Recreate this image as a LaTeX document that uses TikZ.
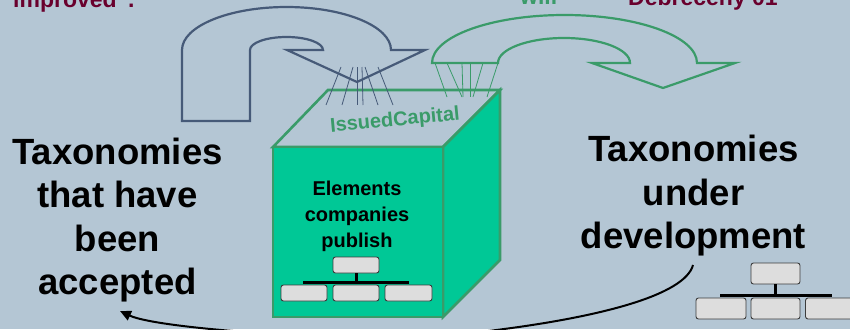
\documentclass[tikz,border=0pt]{standalone}
\usepackage{fontspec}
\setmainfont{Liberation Sans}
\usetikzlibrary{arrows.meta,calc}

\definecolor{bgblue}{RGB}{180,198,212}
\definecolor{slateline}{RGB}{70,90,120}
\definecolor{edgegreen}{RGB}{58,155,105}
\definecolor{cubegreen}{RGB}{0,200,150}
\definecolor{wine}{RGB}{105,0,45}
\definecolor{boxgray}{RGB}{221,221,221}
\definecolor{boxedge}{RGB}{60,60,60}

\tikzset{
  bigtext/.style={font=\bfseries\fontsize{36.5}{43.5}\selectfont, align=center, inner sep=0pt},
  toptext/.style={font=\bfseries\fontsize{23}{27}\selectfont, inner sep=0pt, anchor=base west},
  orgbox/.style={draw=boxedge, fill=boxgray, line width=0.9pt, rounded corners=2.5pt, inner sep=0pt},
  orgbus/.style={draw=black, line width=3pt},
  fanline/.style={line width=0.8pt},
  cubeedge/.style={draw=edgegreen, line width=2.6pt, line join=miter},
}

\begin{document}
\begin{tikzpicture}[x=1pt,y=-1pt]
  % background
  \fill[bgblue] (0,0) rectangle (850,329);
  \useasboundingbox (0,0) rectangle (850,329);

  % headline fragments along the top edge
  \node[toptext, text=wine] (hdA) at (13,8) {improved”.};
  \node[toptext, text=edgegreen] (hdB) at (520,5) {will};
  \node[toptext, text=wine] (hdC) at (628,6) {Debreceny 01};

  % the cube
  \path[cubeedge, fill=bgblue] (273,147) -- (328,90) -- (500,90) -- (443,147) -- cycle;
  \path[cubeedge, fill=cubegreen] (443,147) -- (500,90) -- (500,260) -- (443,317) -- cycle;
  \path[cubeedge, fill=cubegreen] (273,147) rectangle (443,317);

  \node[font=\bfseries\fontsize{20}{24}\selectfont, text=edgegreen, rotate=5.5, inner sep=0pt]
    (topname) at (395,121) {IssuedCapital};
  \node[font=\bfseries\fontsize{20}{26}\selectfont, align=center, inner sep=0pt]
    (cubetext) at (357,216) {Elements\\companies\\publish};

  % small organisation chart on the cube front
  \node[orgbox, minimum width=46pt, minimum height=16pt] (c0) at (356,265) {};
  \node[orgbox, minimum width=46pt, minimum height=16pt] (c1) at (304,293) {};
  \node[orgbox, minimum width=46pt, minimum height=16pt] (c2) at (356,293) {};
  \node[orgbox, minimum width=47pt, minimum height=16pt] (c3) at (408.5,293) {};
  \coordinate (cbusL) at (303,282);
  \coordinate (cbusR) at (409,282);
  \draw[orgbus] (c0.south) -- (c0.south |- cbusL);
  \draw[orgbus] (cbusL) -- (cbusR);

  % U-turn arrow feeding the cube (slate)
  \draw[slateline, line width=2.2pt, line join=miter]
    (182,121) -- (182,50)
    .. controls (182,26.3) and (228.8,7) .. (286.5,7)
    .. controls (344.2,7) and (391,26.3) .. (391,50)
    -- (425,50) -- (357,82) -- (287,50) -- (323,50)
    .. controls (323,42.8) and (306.7,37) .. (286.5,37)
    .. controls (266.3,37) and (250,42.8) .. (250,50)
    -- (250,121) -- cycle;
  \begin{scope}[slateline, fanline]
    \draw (341,67) -- (326,105);
    \draw (353,67) -- (342,105);
    \draw (357,67) -- (357,105);
    \draw (362,67) -- (363,105);
    \draw (365,67) -- (378,105);
    \draw (378,67) -- (393,105);
  \end{scope}

  % U-turn arrow leaving the cube (green)
  \draw[edgegreen, line width=2.2pt, line join=miter]
    (498,63) -- (432,63)
    .. controls (432,36.5) and (491.3,15) .. (564.5,15)
    .. controls (637.7,15) and (697,36.5) .. (697,63)
    -- (735,63) -- (663,88) -- (592,63) -- (630,63)
    .. controls (630,49.2) and (600.5,38) .. (564,38)
    .. controls (527.5,38) and (498,49.2) .. (498,63)
    -- cycle;
  \begin{scope}[edgegreen, fanline]
    \draw (435,63) -- (447,97);
    \draw (447,63) -- (462,97);
    \draw (462,63) -- (463,97);
    \draw (470,63) -- (470,97);
    \draw (483,63) -- (473,97);
    \draw (498,63) -- (487,97);
  \end{scope}

  % side captions
  \node[bigtext] (accepted) at (117.5,220) {Taxonomies\\that have\\been\\accepted};
  \node[bigtext] (developing) at (693.5,196) {Taxonomies\\under\\development};

  % organisation chart beside the right caption
  \node[orgbox, minimum width=49pt, minimum height=21pt] (r0) at (775.5,273.5) {};
  \node[orgbox, minimum width=50pt, minimum height=21pt] (r1) at (721,308.5) {};
  \node[orgbox, minimum width=49pt, minimum height=21pt] (r2) at (775.5,308.5) {};
  \node[orgbox, minimum width=50pt, minimum height=21pt] (r3) at (830.5,308.5) {};
  \coordinate (rbusL) at (720,295);
  \coordinate (rbusR) at (832,295);
  \draw[orgbus] (r0.south) -- (r0.south |- rbusL);
  \draw[orgbus] (rbusL) -- (rbusR);

  % return connector from development back to the accepted set
  \coordinate (loopStart) at (693,265);
  \coordinate (loopEnd) at (120,311);
  \draw[line width=2pt, -{Triangle[length=11pt,width=10pt]}]
    (loopStart) .. controls (685,295) and (600,318) .. (480,332)
    .. controls (380,345) and (160,330) .. (loopEnd);
\end{tikzpicture}
\end{document}
